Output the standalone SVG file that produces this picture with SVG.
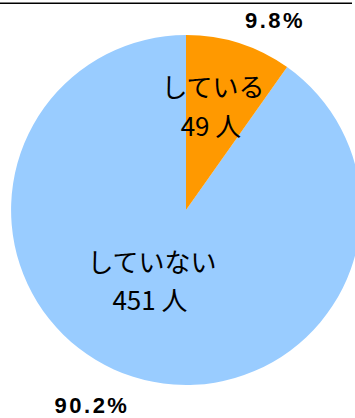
<svg xmlns="http://www.w3.org/2000/svg" width="355" height="418" viewBox="0 0 355 418">
<style>
.lbl{font-family:"Noto Sans CJK JP","Noto Sans",sans-serif;font-size:26px;fill:#000;text-anchor:middle}
.pct{font-family:"Liberation Sans",Arial,sans-serif;font-size:22px;font-weight:bold;fill:#000;text-anchor:middle;letter-spacing:2.5px}
</style>
<rect width="355" height="418" fill="#fff"/>
<line x1="0" y1="3.3" x2="352" y2="3.3" stroke="#000" stroke-width="1.6"/>
<g id="slice-shiteinai">
<path d="M186,210 L287.1,67.1 A175,175 0 1,1 186,35 Z" fill="#99CCFF"/>
<text class="lbl" x="152" y="272">していない</text>
<text class="lbl" x="150" y="310">451 人</text>
</g>
<g id="slice-shiteiru">
<path d="M186,210 L186,35 A175,175 0 0,1 287.1,67.1 Z" fill="#FF9900"/>
<text class="lbl" x="213" y="97">している</text>
<text class="lbl" x="211" y="136">49 人</text>
</g>
<g id="labels">
<text class="pct" x="275" y="28">9.8%</text>
<text class="pct" x="92" y="413">90.2%</text>
</g>
</svg>
